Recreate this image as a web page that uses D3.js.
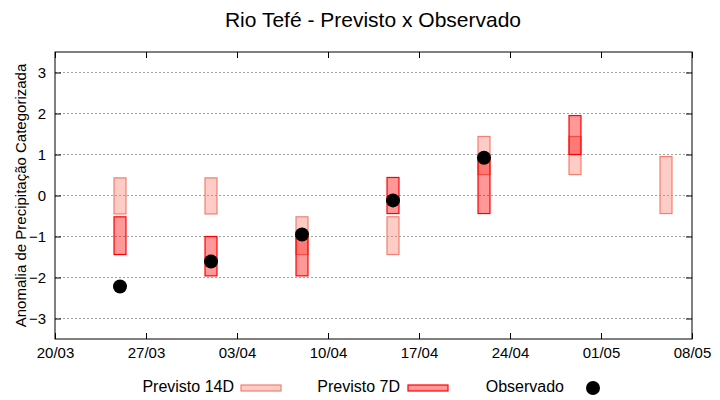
<!DOCTYPE html>
<html><head><meta charset="utf-8">
<script src="https://cdn.jsdelivr.net/npm/d3@7"></script>
<style>body{margin:0;background:#fff}svg{display:block}text{font-family:"Liberation Sans",Arial,sans-serif;fill:#000}</style>
</head><body>
<script>
const dates = ["2024-03-25","2024-04-01","2024-04-08","2024-04-15","2024-04-22","2024-04-29","2024-05-06"];
const prev14Low  = [-0.45,-0.45,-1.44,-1.44, 0.51, 0.51,-0.44];
const prev14High = [ 0.43, 0.43,-0.52,-0.52, 1.44, 1.44, 0.95];
const prev7Low   = [-1.44,-1.96,-1.96,-0.44,-0.44, 1.00, null];
const prev7High  = [-0.52,-1.00,-1.00, 0.44, 0.95, 1.95, null];
const observed   = [-2.22,-1.61,-0.95,-0.12, 0.92, null, null];
const yTicks = [-3,-2,-1,0,1,2,3];
const xTickDates = ["2024-03-20","2024-03-27","2024-04-03","2024-04-10","2024-04-17","2024-04-24","2024-05-01","2024-05-08"];

const W=720,H=400, m={l:55,r:28,t:52,b:61};
const parse=d3.utcParse("%Y-%m-%d");
const svg=d3.select("body").append("svg").attr("width",W).attr("height",H);
const x=d3.scaleUtc().domain([parse("2024-03-20"),parse("2024-05-08")]).range([m.l,W-m.r]);
const y=d3.scaleLinear().domain([-3.5,3.5]).range([H-m.b,m.t]);
const day=86400000, hw=0.46*day;

// grid
svg.append("g").selectAll("line").data(yTicks).join("line")
  .attr("x1",m.l).attr("x2",W-m.r).attr("y1",d=>y(d)).attr("y2",d=>y(d))
  .attr("stroke","#a0a0a0").attr("stroke-width",1).attr("stroke-dasharray","2,2");

const rows=dates.map((d,i)=>({d:parse(d),l14:prev14Low[i],h14:prev14High[i],l7:prev7Low[i],h7:prev7High[i],o:observed[i]}));
svg.append("g").selectAll("rect").data(rows).join("rect")
  .attr("x",d=>x(new Date(+d.d-hw))).attr("width",d=>x(new Date(+d.d+hw))-x(new Date(+d.d-hw)))
  .attr("y",d=>y(d.h14)).attr("height",d=>y(d.l14)-y(d.h14))
  .attr("fill","rgba(250,128,114,0.4)").attr("stroke","#f08070").attr("stroke-width",1.2);
svg.append("g").selectAll("rect").data(rows.filter(r=>r.l7!=null)).join("rect")
  .attr("x",d=>x(new Date(+d.d-hw))).attr("width",d=>x(new Date(+d.d+hw))-x(new Date(+d.d-hw)))
  .attr("y",d=>y(d.h7)).attr("height",d=>y(d.l7)-y(d.h7))
  .attr("fill","rgba(255,0,0,0.4)").attr("stroke","#ff0000").attr("stroke-width",1.2);
svg.append("g").selectAll("circle").data(rows.filter(r=>r.o!=null)).join("circle")
  .attr("cx",d=>x(d.d)).attr("cy",d=>y(d.o)).attr("r",7).attr("fill","#000");

// border
svg.append("rect").attr("x",m.l).attr("y",m.t).attr("width",W-m.r-m.l).attr("height",H-m.b-m.t)
  .attr("fill","none").attr("stroke","#000").attr("stroke-width",1);

// axes with inward ticks
const yL=svg.append("g").attr("transform",`translate(${m.l},0)`)
  .call(d3.axisLeft(y).tickValues(yTicks).tickSizeInner(-6).tickSizeOuter(0).tickPadding(9).tickFormat(d3.format("d")));
const yR=svg.append("g").attr("transform",`translate(${W-m.r},0)`)
  .call(d3.axisRight(y).tickValues(yTicks).tickSizeInner(-6).tickSizeOuter(0).tickFormat(""));
const xt=xTickDates.map(parse);
const xB=svg.append("g").attr("transform",`translate(0,${H-m.b})`)
  .call(d3.axisBottom(x).tickValues(xt).tickSizeInner(-6).tickSizeOuter(0).tickPadding(8).tickFormat(d3.utcFormat("%d/%m")));
const xT=svg.append("g").attr("transform",`translate(0,${m.t})`)
  .call(d3.axisTop(x).tickValues(xt).tickSizeInner(-6).tickSizeOuter(0).tickFormat(""));
[yL,yR,xB,xT].forEach(g=>{g.select(".domain").remove();g.selectAll("line").attr("stroke","#000");
  g.selectAll("text").attr("font-size",15).attr("font-family","Liberation Sans, Arial, sans-serif").attr("fill","#000");});

// title
svg.append("text").attr("x",373).attr("y",27).attr("text-anchor","middle").attr("font-size",21).text("Rio Tefé - Previsto x Observado");
// y label
svg.append("text").attr("transform",`translate(26,${(m.t+H-m.b)/2}) rotate(-90)`).attr("text-anchor","middle").attr("font-size",15)
  .text("Anomalia de Precipitação Categorizada");

// legend
const lg=svg.append("g");
const ly=392;
lg.append("text").attr("x",234).attr("y",ly).attr("text-anchor","end").attr("font-size",16).text("Previsto 14D");
lg.append("rect").attr("x",241).attr("y",385).attr("width",40).attr("height",6).attr("fill","rgba(250,128,114,0.4)").attr("stroke","#f08070").attr("stroke-width",1.2);
lg.append("text").attr("x",400).attr("y",ly).attr("text-anchor","end").attr("font-size",16).text("Previsto 7D");
lg.append("rect").attr("x",408).attr("y",385).attr("width",40).attr("height",6).attr("fill","rgba(255,0,0,0.4)").attr("stroke","#ff0000").attr("stroke-width",1.2);
lg.append("text").attr("x",564).attr("y",ly).attr("text-anchor","end").attr("font-size",16).text("Observado");
lg.append("circle").attr("cx",593).attr("cy",388).attr("r",7).attr("fill","#000");
</script>
</body></html>
